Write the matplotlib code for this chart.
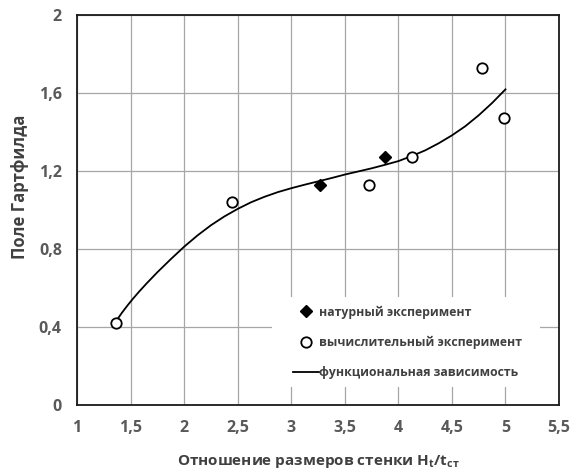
import numpy as np
import matplotlib.pyplot as plt
from matplotlib.patches import Rectangle

plt.rcParams['font.family'] = ['Open Sans', 'DejaVu Sans']

# натурный эксперимент
x_nat = [3.27, 3.875]
y_nat = [1.13, 1.27]

# вычислительный эксперимент
x_calc = [1.36, 2.45, 3.73, 4.13, 4.78, 4.99]
y_calc = [0.42, 1.04, 1.13, 1.27, 1.73, 1.47]

# функциональная зависимость
x_fit = [1.37, 1.42, 1.47, 1.52, 1.58, 1.65, 1.75, 1.875, 2.0, 2.125, 2.25, 2.375, 2.5, 2.625,
         2.75, 2.875, 3.0, 3.125, 3.25, 3.375, 3.5, 3.625, 3.75, 3.875, 4.0, 4.125, 4.25, 4.375,
         4.5, 4.625, 4.75, 4.875, 5.0]
y_fit = [0.435, 0.474, 0.51, 0.544, 0.582, 0.624, 0.681, 0.748, 0.812, 0.87, 0.922, 0.967, 1.006, 1.04,
         1.068, 1.092, 1.112, 1.13, 1.147, 1.164, 1.182, 1.198, 1.214, 1.232, 1.251, 1.277, 1.306, 1.342,
         1.383, 1.43, 1.486, 1.549, 1.619]

x_ticks = [1, 1.5, 2, 2.5, 3, 3.5, 4, 4.5, 5, 5.5]
x_labels = ['1', '1,5', '2', '2,5', '3', '3,5', '4', '4,5', '5', '5,5']
y_ticks = [0, 0.4, 0.8, 1.2, 1.6, 2]
y_labels = ['0', '0,4', '0,8', '1,2', '1,6', '2']

fig = plt.figure(figsize=(5.71, 4.72), dpi=100)
ax = fig.add_axes([0.135, 0.142, 0.844, 0.826])

ax.plot(x_fit, y_fit, color='black', lw=1.3, label='функциональная зависимость', zorder=3)
ax.plot(x_nat, y_nat, 'D', color='black', markersize=6, linestyle='none',
        label='натурный эксперимент', zorder=4)
ax.plot(x_calc, y_calc, 'o', markerfacecolor='white', markeredgecolor='black', markeredgewidth=1.3,
        markersize=7.5, linestyle='none', label='вычислительный эксперимент', zorder=4)

ax.set_xlim(1, 5.5)
ax.set_ylim(0, 2)
ax.set_xticks(x_ticks)
ax.set_xticklabels(x_labels)
ax.set_yticks(y_ticks)
ax.set_yticklabels(y_labels)
ax.tick_params(length=0, labelsize=11.5, labelcolor='#595959', pad=11)
for lab in ax.get_xticklabels() + ax.get_yticklabels():
    lab.set_fontweight('bold')
ax.grid(True, color='#a6a6a6', lw=0.9)
ax.set_axisbelow(True)
for s in ax.spines.values():
    s.set_color('#1a1a1a')
    s.set_linewidth(1.3)

ax.set_xlabel('Отношение размеров стенки H$_\\mathregular{t}$/t$_\\mathregular{ст}$',
              fontsize=11, fontweight='bold', color='#404040', labelpad=12)
ax.set_ylabel('Поле Гартфилда', fontsize=12, fontweight='bold', color='#404040')
ax.yaxis.set_label_coords(-0.1, 0.56)

# белая подложка под легендой
ax.add_patch(Rectangle((0.405, 0.046), 0.555, 0.231, transform=ax.transAxes,
                       facecolor='white', edgecolor='none', zorder=1))

h, l = ax.get_legend_handles_labels()
order = [1, 2, 0]
leg = ax.legend([h[i] for i in order], [l[i] for i in order],
                loc='upper left', bbox_to_anchor=(0.448, 0.255),
                frameon=False, fontsize=8.8, labelspacing=1.4, handlelength=2.1,
                handletextpad=0.05, borderpad=0, borderaxespad=0)
for t in leg.get_texts():
    t.set_fontweight('bold')
    t.set_color('#404040')

fig.savefig('out.png', dpi=100)
